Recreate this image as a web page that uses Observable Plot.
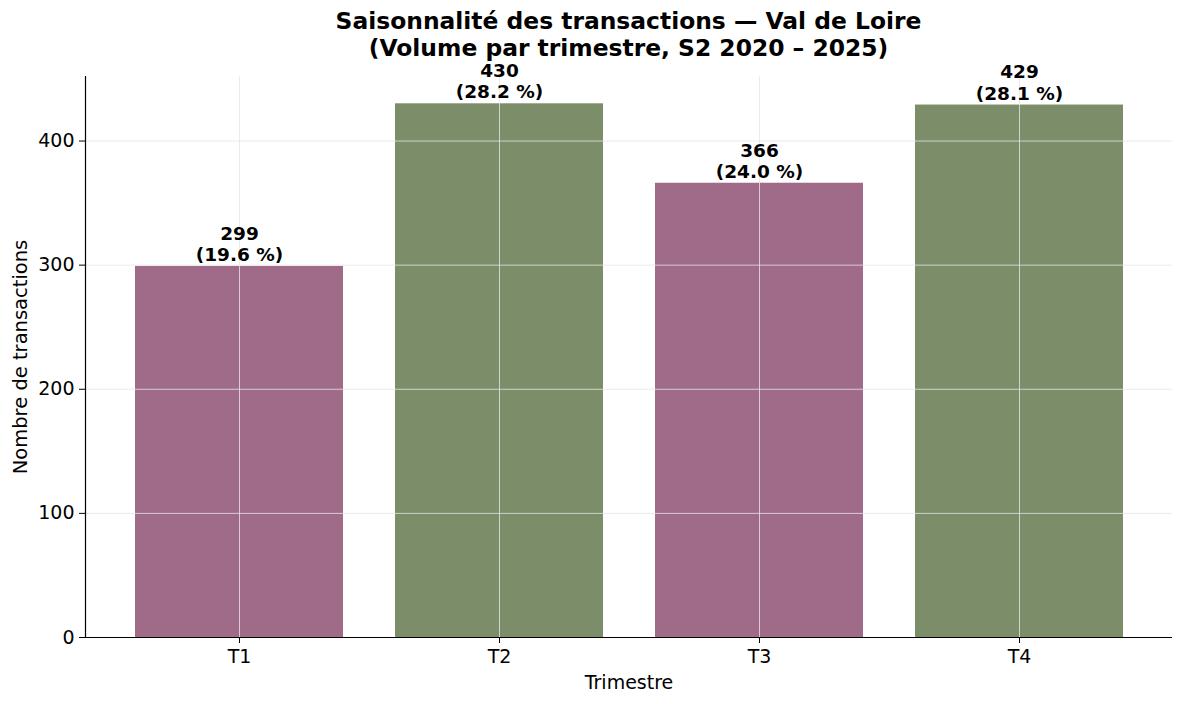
<!DOCTYPE html>
<html>
<head>
<meta charset="utf-8">
<script src="https://cdn.jsdelivr.net/npm/d3@7"></script>
<script src="https://cdn.jsdelivr.net/npm/@observablehq/plot@0.6"></script>
<style>
  html, body { margin: 0; padding: 0; background: #fff; }
  #wrap { position: relative; width: 1184px; height: 704px; font-family: "DejaVu Sans", sans-serif; }
  #title { position: absolute; left: 85px; width: 1087px; top: 8px; text-align: center;
           font-weight: bold; font-size: 23.4px; line-height: 27px; color: #000; }
  #chart { position: absolute; left: 0; top: 0; }
</style>
</head>
<body>
<div id="wrap">
  <div id="chart"></div>
  <div id="title">Saisonnalité des transactions — Val de Loire<br>(Volume par trimestre, S2 2020 – 2025)</div>
</div>
<script>
const quarters = ["T1", "T2", "T3", "T4"];
const volumes = [299, 430, 366, 429];
const colors = ["#a06b89", "#7b8d69", "#a06b89", "#7b8d69"];
const yTicks = [0, 100, 200, 300, 400];

const total = d3.sum(volumes);
const data = quarters.map((q, i) => ({
  q, v: volumes[i], c: colors[i],
  label: `${volumes[i]}\n(${(volumes[i] / total * 100).toFixed(1)} %)`
}));

const chart = Plot.plot({
  width: 1184,
  height: 704,
  marginTop: 76,
  marginBottom: 67,
  marginLeft: 85,
  marginRight: 12,
  style: { fontFamily: "DejaVu Sans, sans-serif", color: "#000", background: "#fff" },
  x: { type: "band", domain: quarters, paddingInner: 0.2, paddingOuter: 0.188 },
  y: { domain: [0, 452] },
  marks: [
    Plot.barY(data, { x: "q", y: "v", fill: "c" }),
    Plot.gridY(yTicks, { stroke: "#e6e6e6", strokeOpacity: 1, strokeWidth: 0.8 }),
    Plot.gridX(quarters, { stroke: "#e6e6e6", strokeOpacity: 1, strokeWidth: 0.8 }),
    Plot.axisY({ ticks: yTicks, tickSize: 6, tickPadding: 5, fontSize: 19,
      label: "Nombre de transactions", labelAnchor: "center", labelArrow: "none", labelOffset: 72 }),
    Plot.axisX({ tickSize: 6, tickPadding: 6, fontSize: 19,
      label: "Trimestre", labelAnchor: "center", labelArrow: "none", labelOffset: 51 }),
    Plot.frame({ anchor: "left", stroke: "#000", strokeWidth: 1.2 }),
    Plot.ruleY([0], { stroke: "#000", strokeWidth: 1.2 }),
    Plot.text(data, { x: "q", y: "v", text: "label", lineAnchor: "bottom", dy: -5.5,
      fontWeight: "bold", fontSize: 18.5, lineHeight: 1.14, fill: "#000" })
  ]
});
// enforce font sizes on axis text
d3.select(chart).selectAll('g[aria-label="x-axis tick label"], g[aria-label="y-axis tick label"], g[aria-label="x-axis label"]')
  .attr("font-size", 19).style("font-size", "19px")
  .selectAll("text").style("font-size", "19px");
d3.select(chart).selectAll('g[aria-label="y-axis label"]')
  .attr("font-size", 19.5).style("font-size", "19.5px")
  .selectAll("text").style("font-size", "19.5px");
document.getElementById("chart").appendChild(chart);
</script>
</body>
</html>
